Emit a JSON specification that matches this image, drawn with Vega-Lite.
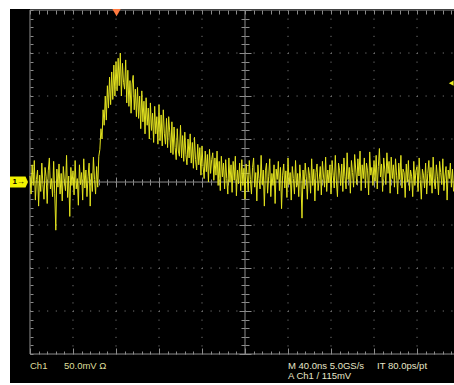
{
"$schema": "https://vega.github.io/schema/vega-lite/v6.json",
"width": 444, "height": 374,
"autosize": {"type": "none"},
"padding": {"left": 10, "top": 9, "right": 0, "bottom": 2},
"background": "#ffffff",
"config": {"view": {"fill": "#000000", "stroke": null}},
"resolve": {"axis": {"x": "independent", "y": "independent"}},
"datasets": {
"trace": [
{"t":0,"v":7},{"t":1,"v":-14},{"t":2,"v":20},{"t":3,"v":-4},{"t":4,"v":25},{"t":5,"v":-21},{"t":6,"v":3},{"t":7,"v":14},{"t":8,"v":-28},{"t":9,"v":8},
{"t":10,"v":-11},{"t":11,"v":22},{"t":12,"v":-3},{"t":13,"v":-20},{"t":14,"v":17},{"t":15,"v":6},{"t":16,"v":-25},{"t":17,"v":13},{"t":18,"v":28},{"t":19,"v":-8},
{"t":20,"v":4},{"t":21,"v":-17},{"t":22,"v":24},{"t":23,"v":-13},{"t":24,"v":-56},{"t":25,"v":15},{"t":26,"v":-6},{"t":27,"v":21},{"t":28,"v":-14},{"t":29,"v":10},
{"t":30,"v":-22},{"t":31,"v":18},{"t":32,"v":1},{"t":33,"v":-10},{"t":34,"v":31},{"t":35,"v":-18},{"t":36,"v":7},{"t":37,"v":-40},{"t":38,"v":17},{"t":39,"v":-4},
{"t":40,"v":13},{"t":41,"v":-15},{"t":42,"v":25},{"t":43,"v":-8},{"t":44,"v":4},{"t":45,"v":-27},{"t":46,"v":20},{"t":47,"v":-3},{"t":48,"v":11},{"t":49,"v":-21},
{"t":50,"v":27},{"t":51,"v":-7},{"t":52,"v":14},{"t":53,"v":-17},{"t":54,"v":6},{"t":55,"v":22},{"t":56,"v":-28},{"t":57,"v":10},{"t":58,"v":-11},{"t":59,"v":29},
{"t":60,"v":3},{"t":61,"v":-14},{"t":62,"v":18},{"t":63,"v":-6},{"t":64,"v":30},{"t":65,"v":38},{"t":66,"v":62},{"t":67,"v":50},{"t":68,"v":84},{"t":69,"v":66},
{"t":70,"v":100},{"t":71,"v":72},{"t":72,"v":112},{"t":73,"v":86},{"t":74,"v":122},{"t":75,"v":90},{"t":76,"v":128},{"t":77,"v":96},{"t":78,"v":136},{"t":79,"v":100},
{"t":80,"v":140},{"t":81,"v":106},{"t":82,"v":144},{"t":83,"v":112},{"t":84,"v":150},{"t":85,"v":100},{"t":86,"v":138},{"t":87,"v":116},{"t":88,"v":108},{"t":89,"v":142},
{"t":90,"v":92},{"t":91,"v":130},{"t":92,"v":88},{"t":93,"v":118},{"t":94,"v":80},{"t":95,"v":114},{"t":96,"v":124},{"t":97,"v":84},{"t":98,"v":108},{"t":99,"v":76},
{"t":100,"v":110},{"t":101,"v":74},{"t":102,"v":100},{"t":103,"v":62},{"t":104,"v":106},{"t":105,"v":70},{"t":106,"v":94},{"t":107,"v":56},{"t":108,"v":98},{"t":109,"v":66},
{"t":110,"v":86},{"t":111,"v":50},{"t":112,"v":92},{"t":113,"v":60},{"t":114,"v":80},{"t":115,"v":46},{"t":116,"v":88},{"t":117,"v":56},{"t":118,"v":76},{"t":119,"v":44},
{"t":120,"v":90},{"t":121,"v":48},{"t":122,"v":78},{"t":123,"v":42},{"t":124,"v":84},{"t":125,"v":56},{"t":126,"v":44},{"t":127,"v":74},{"t":128,"v":40},{"t":129,"v":76},
{"t":130,"v":58},{"t":131,"v":34},{"t":132,"v":70},{"t":133,"v":32},{"t":134,"v":64},{"t":135,"v":40},{"t":136,"v":26},{"t":137,"v":62},{"t":138,"v":36},{"t":139,"v":30},
{"t":140,"v":66},{"t":141,"v":28},{"t":142,"v":54},{"t":143,"v":24},{"t":144,"v":58},{"t":145,"v":32},{"t":146,"v":20},{"t":147,"v":50},{"t":148,"v":28},{"t":149,"v":56},
{"t":150,"v":22},{"t":151,"v":46},{"t":152,"v":16},{"t":153,"v":52},{"t":154,"v":26},{"t":155,"v":14},{"t":156,"v":44},{"t":157,"v":20},{"t":158,"v":40},{"t":159,"v":8},
{"t":160,"v":42},{"t":161,"v":18},{"t":162,"v":4},{"t":163,"v":36},{"t":164,"v":12},{"t":165,"v":32},{"t":166,"v":0},{"t":167,"v":38},{"t":168,"v":10},{"t":169,"v":26},
{"t":170,"v":34},{"t":171,"v":2},{"t":172,"v":28},{"t":173,"v":8},{"t":174,"v":36},{"t":175,"v":-4},{"t":176,"v":24},{"t":177,"v":-10},{"t":178,"v":30},{"t":179,"v":6},
{"t":180,"v":22},{"t":181,"v":-8},{"t":182,"v":26},{"t":183,"v":4},{"t":184,"v":-14},{"t":185,"v":28},{"t":186,"v":0},{"t":187,"v":20},{"t":188,"v":-12},{"t":189,"v":24},
{"t":190,"v":2},{"t":191,"v":30},{"t":192,"v":-16},{"t":193,"v":14},{"t":194,"v":-2},{"t":195,"v":22},{"t":196,"v":-10},{"t":197,"v":26},{"t":198,"v":-4},{"t":199,"v":16},
{"t":200,"v":-20},{"t":201,"v":21},{"t":202,"v":7},{"t":203,"v":-11},{"t":204,"v":25},{"t":205,"v":3},{"t":206,"v":-14},{"t":207,"v":17},{"t":208,"v":28},{"t":209,"v":-6},
{"t":210,"v":11},{"t":211,"v":-22},{"t":212,"v":20},{"t":213,"v":4},{"t":214,"v":-8},{"t":215,"v":31},{"t":216,"v":-3},{"t":217,"v":14},{"t":218,"v":-28},{"t":219,"v":13},
{"t":220,"v":22},{"t":221,"v":-13},{"t":222,"v":6},{"t":223,"v":27},{"t":224,"v":-17},{"t":225,"v":10},{"t":226,"v":-4},{"t":227,"v":20},{"t":228,"v":-25},{"t":229,"v":15},
{"t":230,"v":3},{"t":231,"v":24},{"t":232,"v":-10},{"t":233,"v":17},{"t":234,"v":-31},{"t":235,"v":8},{"t":236,"v":21},{"t":237,"v":-7},{"t":238,"v":13},{"t":239,"v":-18},
{"t":240,"v":28},{"t":241,"v":-3},{"t":242,"v":11},{"t":243,"v":-21},{"t":244,"v":18},{"t":245,"v":4},{"t":246,"v":-14},{"t":247,"v":25},{"t":248,"v":-6},{"t":249,"v":10},
{"t":250,"v":-17},{"t":251,"v":20},{"t":252,"v":1},{"t":253,"v":-42},{"t":254,"v":14},{"t":255,"v":-8},{"t":256,"v":22},{"t":257,"v":6},{"t":258,"v":-20},{"t":259,"v":17},
{"t":260,"v":8},{"t":261,"v":-13},{"t":262,"v":27},{"t":263,"v":-4},{"t":264,"v":15},{"t":265,"v":-22},{"t":266,"v":11},{"t":267,"v":21},{"t":268,"v":-10},{"t":269,"v":3},
{"t":270,"v":18},{"t":271,"v":-15},{"t":272,"v":24},{"t":273,"v":7},{"t":274,"v":-6},{"t":275,"v":29},{"t":276,"v":-11},{"t":277,"v":14},{"t":278,"v":-1},{"t":279,"v":20},
{"t":280,"v":-14},{"t":281,"v":25},{"t":282,"v":8},{"t":283,"v":-7},{"t":284,"v":31},{"t":285,"v":1},{"t":286,"v":-17},{"t":287,"v":22},{"t":288,"v":13},{"t":289,"v":-4},
{"t":290,"v":21},{"t":291,"v":-11},{"t":292,"v":28},{"t":293,"v":6},{"t":294,"v":-8},{"t":295,"v":34},{"t":296,"v":3},{"t":297,"v":17},{"t":298,"v":-13},{"t":299,"v":25},
{"t":300,"v":11},{"t":301,"v":-6},{"t":302,"v":32},{"t":303,"v":14},{"t":304,"v":-3},{"t":305,"v":27},{"t":306,"v":7},{"t":307,"v":36},{"t":308,"v":-10},{"t":309,"v":20},
{"t":310,"v":4},{"t":311,"v":28},{"t":312,"v":-7},{"t":313,"v":22},{"t":314,"v":13},{"t":315,"v":-15},{"t":316,"v":35},{"t":317,"v":8},{"t":318,"v":17},{"t":319,"v":-4},
{"t":320,"v":25},{"t":321,"v":1},{"t":322,"v":31},{"t":323,"v":-8},{"t":324,"v":18},{"t":325,"v":39},{"t":326,"v":6},{"t":327,"v":21},{"t":328,"v":-11},{"t":329,"v":28},
{"t":330,"v":14},{"t":331,"v":-3},{"t":332,"v":34},{"t":333,"v":10},{"t":334,"v":24},{"t":335,"v":-13},{"t":336,"v":29},{"t":337,"v":4},{"t":338,"v":20},{"t":339,"v":-6},
{"t":340,"v":27},{"t":341,"v":8},{"t":342,"v":-14},{"t":343,"v":22},{"t":344,"v":3},{"t":345,"v":31},{"t":346,"v":-7},{"t":347,"v":15},{"t":348,"v":11},{"t":349,"v":-18},
{"t":350,"v":21},{"t":351,"v":0},{"t":352,"v":25},{"t":353,"v":-10},{"t":354,"v":14},{"t":355,"v":6},{"t":356,"v":-17},{"t":357,"v":24},{"t":358,"v":-4},{"t":359,"v":13},
{"t":360,"v":18},{"t":361,"v":-11},{"t":362,"v":28},{"t":363,"v":3},{"t":364,"v":-20},{"t":365,"v":15},{"t":366,"v":8},{"t":367,"v":-7},{"t":368,"v":22},{"t":369,"v":-14},
{"t":370,"v":10},{"t":371,"v":25},{"t":372,"v":-4},{"t":373,"v":17},{"t":374,"v":-13},{"t":375,"v":29},{"t":376,"v":1},{"t":377,"v":-8},{"t":378,"v":20},{"t":379,"v":6},
{"t":380,"v":-15},{"t":381,"v":24},{"t":382,"v":11},{"t":383,"v":-3},{"t":384,"v":27},{"t":385,"v":-10},{"t":386,"v":7},{"t":387,"v":18},{"t":388,"v":-21},{"t":389,"v":14},
{"t":390,"v":4},{"t":391,"v":22},{"t":392,"v":-6},{"t":393,"v":15},{"t":394,"v":-11}
]
},
"layer": [
{
"data": {"values": [{"t":40},{"t":80},{"t":120},{"t":160},{"t":240},{"t":280},{"t":320},{"t":360}]},
"mark": {"type": "rule", "color": "#8a8a8a", "strokeWidth": 1, "strokeDash": [1, 7.6]},
"encoding": {
"x": {"field": "t", "type": "quantitative", "scale": {"domain": [-18.6, 394.4], "nice": false, "zero": false},
"axis": {"orient": "bottom", "offset": -373, "values": [0,8,16,24,32,40,48,56,64,72,80,88,96,104,112,120,128,136,144,152,160,168,176,184,192,200,208,216,224,232,240,248,256,264,272,280,288,296,304,312,320,328,336,344,352,360,368,376,384,392], "tickSize": 4, "tickColor": "#8a8a8a", "tickWidth": 1, "domain": false, "labels": false, "grid": false, "title": null}},
"y": {"datum": 200, "type": "quantitative", "scale": {"domain": [-233.7, 201.2], "nice": false, "zero": false}, "axis": null},
"y2": {"datum": -200}
}
},
{
"data": {"values": [{"v":150},{"v":100},{"v":50},{"v":-50},{"v":-100},{"v":-150}]},
"mark": {"type": "rule", "color": "#8a8a8a", "strokeWidth": 1, "strokeDash": [1, 7.6]},
"encoding": {
"y": {"field": "v", "type": "quantitative", "scale": {"domain": [-233.7, 201.2], "nice": false, "zero": false},
"axis": {"orient": "right", "offset": -424, "values": [-200,-190,-180,-170,-160,-150,-140,-130,-120,-110,-100,-90,-80,-70,-60,-50,-40,-30,-20,-10,0,10,20,30,40,50,60,70,80,90,100,110,120,130,140,150,160,170,180,190,200], "tickSize": 3, "tickColor": "#8a8a8a", "tickWidth": 1, "domain": false, "labels": false, "grid": false, "title": null}},
"x": {"datum": 0, "type": "quantitative", "scale": {"domain": [-18.6, 394.4], "nice": false, "zero": false}, "axis": null},
"x2": {"datum": 394.4}
}
},
{
"data": {"values": [{"t":0},{"t":200}]},
"mark": {"type": "rule", "color": "#8c8c8c", "strokeWidth": 1},
"encoding": {
"x": {"field": "t", "type": "quantitative", "scale": {"domain": [-18.6, 394.4], "nice": false, "zero": false},
"axis": {"orient": "bottom", "offset": -201, "values": [0,8,16,24,32,40,48,56,64,72,80,88,96,104,112,120,128,136,144,152,160,168,176,184,192,200,208,216,224,232,240,248,256,264,272,280,288,296,304,312,320,328,336,344,352,360,368,376,384,392], "tickSize": {"condition": {"test": "datum.value % 40 === 0", "value": 5}, "value": 3}, "tickColor": "#8c8c8c", "tickWidth": 1, "domain": false, "labels": false, "grid": false, "title": null}},
"y": {"datum": 200, "type": "quantitative", "scale": {"domain": [-233.7, 201.2], "nice": false, "zero": false}, "axis": null},
"y2": {"datum": -200}
}
},
{
"data": {"values": [{"v":200},{"v":0},{"v":-200}]},
"mark": {"type": "rule", "color": "#8c8c8c", "strokeWidth": 1},
"encoding": {
"y": {"field": "v", "type": "quantitative", "scale": {"domain": [-233.7, 201.2], "nice": false, "zero": false},
"axis": {"orient": "left", "offset": -235, "values": [-200,-190,-180,-170,-160,-150,-140,-130,-120,-110,-100,-90,-80,-70,-60,-50,-40,-30,-20,-10,0,10,20,30,40,50,60,70,80,90,100,110,120,130,140,150,160,170,180,190,200], "tickSize": {"condition": {"test": "datum.value % 50 === 0", "value": 6}, "value": 4}, "tickColor": "#8c8c8c", "tickWidth": 1, "domain": false, "labels": false, "grid": false, "title": null}},
"x": {"datum": 0, "type": "quantitative", "scale": {"domain": [-18.6, 394.4], "nice": false, "zero": false}, "axis": null},
"x2": {"datum": 394.4}
}
},
{
"data": {"name": "trace"},
"mark": {"type": "line", "color": "#e2e21e", "strokeWidth": 1},
"encoding": {
"x": {"field": "t", "type": "quantitative", "scale": {"domain": [-18.6, 394.4], "nice": false, "zero": false},
"axis": {"orient": "top", "offset": -173, "values": [0,8,16,24,32,40,48,56,64,72,80,88,96,104,112,120,128,136,144,152,160,168,176,184,192,200,208,216,224,232,240,248,256,264,272,280,288,296,304,312,320,328,336,344,352,360,368,376,384,392], "tickSize": {"condition": {"test": "datum.value % 40 === 0", "value": 5}, "value": 3}, "tickColor": "#8c8c8c", "tickWidth": 1, "domain": false, "labels": false, "grid": false, "title": null}},
"y": {"field": "v", "type": "quantitative", "scale": {"domain": [-233.7, 201.2], "nice": false, "zero": false},
"axis": {"orient": "right", "offset": -209, "values": [-200,-190,-180,-170,-160,-150,-140,-130,-120,-110,-100,-90,-80,-70,-60,-50,-40,-30,-20,-10,0,10,20,30,40,50,60,70,80,90,100,110,120,130,140,150,160,170,180,190,200], "tickSize": {"condition": {"test": "datum.value % 50 === 0", "value": 6}, "value": 4}, "tickColor": "#8c8c8c", "tickWidth": 1, "domain": false, "labels": false, "grid": false, "title": null}}
}
},
{
"data": {"values": [
{"label": "Ch1", "t": 0, "v": -214},
{"label": "50.0mV  Ω", "t": 31.6, "v": -214}
]},
"mark": {"type": "text", "align": "left", "baseline": "middle", "font": "Liberation Sans", "fontSize": 9.5, "color": "#dede9a"},
"encoding": {
"x": {"field": "t", "type": "quantitative", "scale": {"domain": [-18.6, 394.4], "nice": false, "zero": false},
"axis": {"orient": "top", "offset": -345, "values": [0,8,16,24,32,40,48,56,64,72,80,88,96,104,112,120,128,136,144,152,160,168,176,184,192,200,208,216,224,232,240,248,256,264,272,280,288,296,304,312,320,328,336,344,352,360,368,376,384,392], "tickSize": {"condition": {"test": "datum.value % 40 === 0", "value": 6}, "value": 3}, "tickColor": "#8c8c8c", "tickWidth": 1, "domain": false, "labels": false, "grid": false, "title": null}},
"y": {"field": "v", "type": "quantitative", "scale": {"domain": [-233.7, 201.2], "nice": false, "zero": false}, "axis": null},
"text": {"field": "label"}
}
},
{
"data": {"values": [
{"label": "M 40.0ns 5.0GS/s", "t": 240, "v": -214},
{"label": "IT 80.0ps/pt", "t": 322.8, "v": -214},
{"label": "A  Ch1  /  115mV", "t": 240, "v": -226}
]},
"mark": {"type": "text", "align": "left", "baseline": "middle", "font": "Liberation Sans", "fontSize": 9.5, "color": "#e6e6c8"},
"encoding": {
"x": {"field": "t", "type": "quantitative", "scale": {"domain": [-18.6, 394.4], "nice": false, "zero": false}, "axis": null},
"y": {"field": "v", "type": "quantitative", "scale": {"domain": [-233.7, 201.2], "nice": false, "zero": false}, "axis": null},
"text": {"field": "label"}
}
},
{
"data": {"values": [{"t": -10.2, "v": 0}]},
"mark": {"type": "point", "filled": true, "opacity": 1, "color": "#f2f200", "size": 324, "shape": "M-1,-0.62 L0.72,-0.62 L1,0 L0.72,0.62 L-1,0.62 Z"},
"encoding": {
"x": {"field": "t", "type": "quantitative", "scale": {"domain": [-18.6, 394.4], "nice": false, "zero": false}, "axis": null},
"y": {"field": "v", "type": "quantitative", "scale": {"domain": [-233.7, 201.2], "nice": false, "zero": false}, "axis": null}
}
},
{
"data": {"values": [{"t": -10.6, "v": 0, "label": "1→"}]},
"mark": {"type": "text", "align": "center", "baseline": "middle", "font": "Liberation Sans", "fontSize": 8, "fontWeight": "bold", "color": "#000000"},
"encoding": {
"x": {"field": "t", "type": "quantitative", "scale": {"domain": [-18.6, 394.4], "nice": false, "zero": false}, "axis": null},
"y": {"field": "v", "type": "quantitative", "scale": {"domain": [-233.7, 201.2], "nice": false, "zero": false}, "axis": null},
"text": {"field": "label"}
}
},
{
"data": {"values": [{"t": 80.5, "v": 197}]},
"mark": {"type": "point", "filled": true, "opacity": 1, "shape": "triangle-down", "color": "#ff7a40", "size": 70},
"encoding": {
"x": {"field": "t", "type": "quantitative", "scale": {"domain": [-18.6, 394.4], "nice": false, "zero": false}, "axis": null},
"y": {"field": "v", "type": "quantitative", "scale": {"domain": [-233.7, 201.2], "nice": false, "zero": false}, "axis": null}
}
},
{
"data": {"values": [{"t": 391.8, "v": 115}]},
"mark": {"type": "point", "filled": true, "opacity": 1, "shape": "triangle-left", "color": "#eaea20", "size": 30},
"encoding": {
"x": {"field": "t", "type": "quantitative", "scale": {"domain": [-18.6, 394.4], "nice": false, "zero": false}, "axis": null},
"y": {"field": "v", "type": "quantitative", "scale": {"domain": [-233.7, 201.2], "nice": false, "zero": false}, "axis": null}
}
}
]
}
